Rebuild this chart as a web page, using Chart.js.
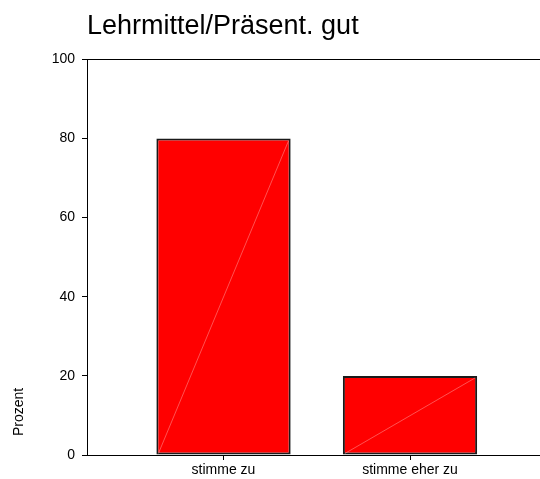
<!DOCTYPE html>
<html>
<head>
<meta charset="utf-8">
<script src="https://cdn.jsdelivr.net/npm/chart.js@4"></script>
<style>
    html, body { margin: 0; padding: 0; background: #fff; }
    #wrap { width: 540px; height: 479px; position: relative; }
</style>
</head>
<body>
<div id="wrap"><canvas id="lehrmittelChart"></canvas></div>
<script>
const categories = ["stimme zu", "stimme eher zu"];
const prozentValues = [80, 20];
const yTicks = [0, 20, 40, 60, 80, 100];

const FONT = "'Liberation Sans', Arial, sans-serif";

// faint light diagonal across each bar, as in the original export
const diagonalPlugin = {
    id: "barDiagonal",
    afterDatasetsDraw(chart) {
        const meta = chart.getDatasetMeta(0);
        const { ctx } = chart;
        ctx.save();
        ctx.strokeStyle = "rgba(255, 170, 170, 0.8)";
        ctx.lineWidth = 0.6;
        meta.data.forEach((bar) => {
            const half = bar.width / 2;
            ctx.beginPath();
            ctx.moveTo(bar.x - half + 2, bar.base - 1);
            ctx.lineTo(bar.x + half - 2, bar.y + 2);
            ctx.stroke();
        });
        ctx.restore();
    }
};

// y axis title sits low, near the bottom of the axis
const yTitlePlugin = {
    id: "yTitle",
    afterDraw(chart) {
        const { ctx } = chart;
        ctx.save();
        ctx.translate(19, 412);
        ctx.rotate(-Math.PI / 2);
        ctx.textAlign = "center";
        ctx.textBaseline = "middle";
        ctx.fillStyle = "#000";
        ctx.font = "14px " + FONT;
        ctx.fillText("Prozent", 0, 0);
        ctx.restore();
    }
};

new Chart(document.getElementById("lehrmittelChart"), {
    type: "bar",
    data: {
        labels: categories,
        datasets: [{
            data: prozentValues,
            backgroundColor: "#ff0000",
            borderColor: "#1a1a1a",
            borderWidth: 2,
            borderSkipped: false,
            categoryPercentage: 1,
            barPercentage: 0.72
        }]
    },
    options: {
        responsive: true,
        maintainAspectRatio: false,
        animation: false,
        layout: { padding: 0 },
        plugins: {
            legend: { display: false },
            tooltip: { enabled: false },
            title: {
                display: true,
                text: "Lehrmittel/Präsent. gut",
                align: "start",
                fullSize: false,
                color: "#000",
                font: { family: FONT, size: 27, weight: "normal" },
                padding: { top: 10, bottom: 17 }
            }
        },
        scales: {
            x: {
                afterBuildTicks(scale) {
                    // categories sit off-centre in a wide plot
                    scale._startValue = -0.732;
                    scale._valueRange = 2.429;
                },
                afterFit(scale) {
                    scale.height = 24;
                },
                border: { color: "#000", width: 1 },
                grid: {
                    offset: false,
                    drawOnChartArea: false,
                    tickColor: "#000",
                    tickLength: 5
                },
                ticks: {
                    color: "#000",
                    padding: 2,
                    font: { family: FONT, size: 14 }
                }
            },
            y: {
                min: 0,
                max: 100,
                afterBuildTicks(scale) {
                    scale.ticks = yTicks.map((v) => ({ value: v }));
                },
                afterFit(scale) {
                    scale.width = 87;
                },
                border: { color: "#000", width: 1 },
                grid: {
                    color: (ctx) => (ctx.tick && ctx.tick.value === 100 ? "#000" : "rgba(0,0,0,0)"),
                    tickColor: "#000",
                    tickLength: 5
                },
                ticks: {
                    color: "#000",
                    padding: 7,
                    font: { family: FONT, size: 14 }
                }
            }
        }
    },
    plugins: [diagonalPlugin, yTitlePlugin]
});
</script>
</body>
</html>
